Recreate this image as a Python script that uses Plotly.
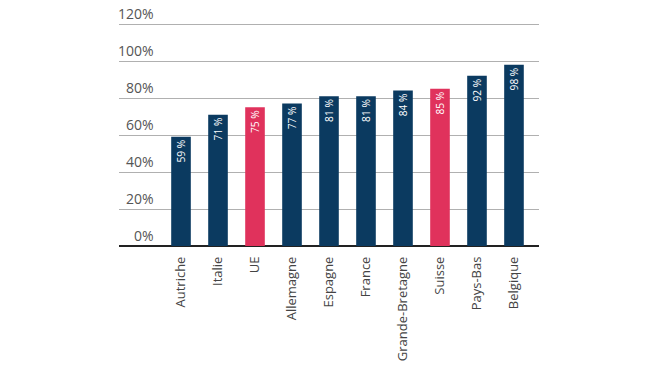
import plotly.graph_objects as go

countries = ["Autriche", "Italie", "UE", "Allemagne", "Espagne", "France",
             "Grande-Bretagne", "Suisse", "Pays-Bas", "Belgique"]
values = [59, 71, 75, 77, 81, 81, 84, 85, 92, 98]
highlight = ["UE", "Suisse"]
y_ticks = [0, 20, 40, 60, 80, 100, 120]

NAVY = "#0B3A60"
PINK = "#E0325C"
colors = [PINK if c in highlight else NAVY for c in countries]
FONT = "Open Sans"

fig = go.Figure(go.Bar(
    x=countries, y=values,
    marker=dict(color=colors, line=dict(width=0)),
    width=0.53,
    text=[f"{v} %" for v in values],
    textposition="inside", insidetextanchor="end", textangle=-90,
    textfont=dict(color="white", size=13.5, family=FONT),
    cliponaxis=False,
))

annotations = []
for t in y_ticks:
    annotations.append(dict(
        x=0.0857, xref="paper", y=t, yref="y",
        text=f"{t}%", showarrow=False, xanchor="right", yanchor="bottom",
        yshift=0, borderpad=0,
        font=dict(size=14, color="#555555", family=FONT)))

fig.update_layout(
    width=670, height=377,
    margin=dict(l=119, r=131, t=20, b=131),
    paper_bgcolor="white", plot_bgcolor="white",
    showlegend=False,
    annotations=annotations,
    xaxis=dict(range=[-1.676, 9.676], tickangle=-90, showgrid=False,
               tickfont=dict(size=13, color="#444444", family=FONT),
               ticklabelstandoff=7,
               showline=False, ticks=""),
    yaxis=dict(range=[0, 122.16], tickvals=y_ticks, showticklabels=False,
               showgrid=True, gridcolor="#B0B0B0", gridwidth=1,
               zeroline=True, zerolinecolor="#222222", zerolinewidth=1.5),
)

fig.write_html("out.html", config={"displayModeBar": False},
               post_script="document.body.style.margin='0';")
